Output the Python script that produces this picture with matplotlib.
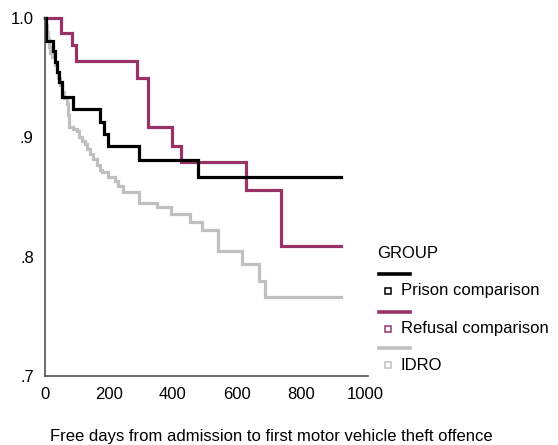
import matplotlib.pyplot as plt
from matplotlib.lines import Line2D

plt.rcParams['font.family'] = ['Liberation Sans', 'DejaVu Sans']

# Kaplan-Meier style step curves: event times (days) and survival after each step
prison_days = [0, 2, 25, 31, 37, 44, 53, 89, 172, 184, 197, 295, 477, 927]
prison_surv = [1.0, 0.981, 0.972, 0.963, 0.955, 0.946, 0.934, 0.924, 0.913, 0.903, 0.893, 0.881, 0.867, 0.867]

refusal_days = [0, 50, 83, 97, 288, 322, 396, 425, 630, 737, 925]
refusal_surv = [1.0, 0.987, 0.977, 0.964, 0.950, 0.909, 0.893, 0.879, 0.856, 0.809, 0.809]

idro_days = [0, 3, 6, 9, 12, 16, 22, 31, 37, 41, 47, 53, 59, 68, 72, 75, 88, 99, 106,
             116, 125, 131, 141, 150, 163, 172, 178, 197, 219, 228, 244, 294, 350, 394,
             453, 491, 541, 616, 669, 688, 927]
idro_surv = [1.0, 0.994, 0.988, 0.982, 0.976, 0.971, 0.967, 0.961, 0.955, 0.950, 0.944,
             0.938, 0.933, 0.928, 0.919, 0.909, 0.907, 0.905, 0.900, 0.897, 0.894, 0.890,
             0.886, 0.882, 0.877, 0.873, 0.871, 0.867, 0.863, 0.859, 0.854, 0.845, 0.842,
             0.836, 0.829, 0.822, 0.805, 0.794, 0.780, 0.766, 0.766]

groups = ['Prison comparison', 'Refusal comparison', 'IDRO']
colors = ['#000000', '#993366', '#c0c0c0']
x_ticks = [0, 200, 400, 600, 800, 1000]
y_ticks = [0.7, 0.8, 0.9, 1.0]
y_tick_labels = ['.7', '.8', '.9', '1.0']

fs = 12
fig = plt.figure(figsize=(5.58, 4.45), dpi=100)
ax = fig.add_axes([0.0806, 0.155, 0.5789, 0.8046])

# draw grey first so the darker lines sit on top
curves = [(idro_days, idro_surv, colors[2]),
          (refusal_days, refusal_surv, colors[1]),
          (prison_days, prison_surv, colors[0])]
for days, surv, c in curves:
    ax.step(days, surv, where='post', color=c, lw=2.3, clip_on=False,
            solid_joinstyle='miter')

ax.set_xlim(0, 1010)
ax.set_ylim(0.7, 1.0)
ax.set_xticks(x_ticks)
ax.set_xticklabels([str(t) for t in x_ticks], fontsize=fs)
ax.set_yticks(y_ticks)
ax.set_yticklabels(y_tick_labels, fontsize=fs)
ax.tick_params(length=0, pad=8)
for side in ['top', 'right']:
    ax.spines[side].set_visible(False)
for side in ['left', 'bottom']:
    ax.spines[side].set_color('#444444')
    ax.spines[side].set_linewidth(1.1)

fig.text(271 / 558, 1 - 437 / 445, 'Free days from admission to first motor vehicle theft offence',
         ha='center', va='center', fontsize=fs)

# legend drawn by hand: a line row then a marker row per group
W, H = 558, 445
fig.text(377 / W, 1 - 254 / H, 'GROUP', ha='left', va='center', fontsize=fs)
line_y = [274, 311.5, 348]
for i, (name, c) in enumerate(zip(groups, colors)):
    ly = 1 - line_y[i] / H
    my = 1 - (line_y[i] + 17) / H
    fig.add_artist(Line2D([379 / W, 410 / W], [ly, ly], color=c, lw=2.6,
                          transform=fig.transFigure))
    fig.add_artist(Line2D([388 / W], [my], marker='s', markersize=4.2, mfc='white',
                          mec=c, mew=1.1, transform=fig.transFigure))
    fig.text(401 / W, my, name, ha='left', va='center', fontsize=fs)

fig.savefig('out.png', dpi=100)
